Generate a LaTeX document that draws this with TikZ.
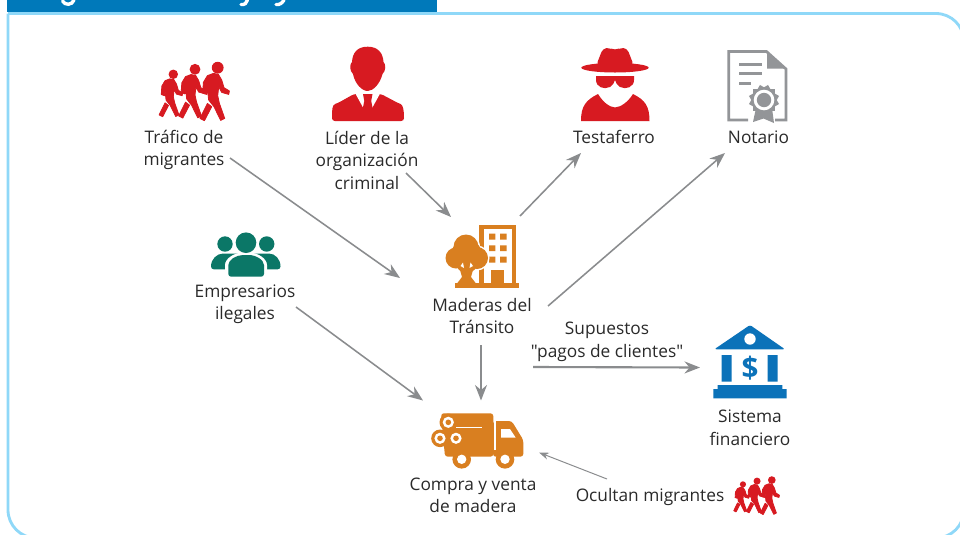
\documentclass[tikz,border=0pt]{standalone}
\usepackage{fontspec}
\newfontfamily\opensans{Open Sans}
\usetikzlibrary{arrows.meta,calc}

\definecolor{bandblue}{HTML}{0079BA}
\definecolor{framesky}{HTML}{8FD8F8}
\definecolor{arrowgray}{HTML}{8A8C8E}
\definecolor{docgray}{HTML}{939598}
\definecolor{inkgray}{HTML}{2A2A2A}
\definecolor{iconred}{HTML}{D71A21}
\definecolor{woodorange}{HTML}{D97F20}
\definecolor{bankblue}{HTML}{0B72B9}
\definecolor{groupgreen}{HTML}{0B7767}

\newcommand{\runner}[3]{
  \begin{scope}[shift={(#1,#2)},scale=#3]
    \fill[iconred] (0,0) circle (5.9);
    \filldraw[iconred,line width=.6pt,line join=round] (-4.3,5.7) -- (.7,6.7) -- (4,12.3) -- (6.3,20) -- (11.7,23.3) -- (11,26.7) -- (4,24.7) -- (1,19) -- (0,28) -- (1.7,35.7) -- (7,50.7) -- (3,52.7) -- (-3.7,39) -- (-9,32.3) -- (-10.3,20.7) -- (-11,26.7) -- (-15,25.3) -- (-14.3,14.7) -- (-10.3,8) -- cycle;
    \filldraw[iconred,line width=.6pt,line join=round] (-10.3,35.7) -- (-6,39) -- (-13.3,53) -- (-17.7,50.7) -- cycle;
  \end{scope}
}
\newcommand{\runnergroup}[3]{
  \begin{scope}[shift={(#1,#2)},scale=#3]
    \runner{15.3}{11.3}{.8}
    \runner{37}{6.3}{.92}
    \runner{59.7}{4.7}{1}
  \end{scope}
}

\begin{document}
\begin{tikzpicture}[x=0.025cm,y=-0.025cm,
  label node/.style={align=center,text=inkgray,inner sep=2pt,font=\opensans\fontsize{12.3}{16}\selectfont},
  flow/.style={draw=arrowgray,line width=1.1pt,-{Stealth[length=11pt,width=8.5pt]}},
  thin flow/.style={draw=arrowgray,line width=.7pt,-{Stealth[length=7pt,width=5pt]}}]

  \clip (0,0) rectangle (960,534);
  \fill[white] (0,0) rectangle (960,534);

  \draw[framesky,line width=2pt,rounded corners=20pt] (8,13.5) -- (964,13.5) -- (964,538) -- (8,538) -- (8,13.5);
  \fill[bandblue] (7,-1) rectangle (437,12);
  \draw[white,line width=2.4pt,line cap=round] (62.5,1) .. controls (65,5.5) and (72,5.5) .. (74,0);
  \draw[white,line width=2.4pt,line cap=round] (241,4.5) .. controls (245,5) and (246.5,3) .. (247.5,0);
  \draw[white,line width=2.4pt,line cap=round] (276,4.5) .. controls (280,5) and (282,3) .. (284,0);

  \node[label node] (trafico) at (184,150) {Tráfico de\\migrantes};
  \node[label node] (lider) at (367,160) {Líder de la\\organización\\criminal};
  \node[label node] (testaferro) at (614,137) {Testaferro};
  \node[label node] (notario) at (758.5,137) {Notario};
  \node[label node] (empresarios) at (245,304) {Empresarios\\ilegales};
  \node[label node] (maderas) at (482,316) {Maderas del\\Tránsito};
  \node[label node] (pagos) at (607,342) {Supuestos\\"pagos de clientes"};
  \node[label node] (sistema) at (750,427.5) {Sistema\\financiero};
  \node[label node] (compra) at (473,495.5) {Compra y venta\\de madera};
  \node[label node] (ocultan) at (650,497) {Ocultan migrantes};

  \runnergroup{158}{63}{1}
  \runnergroup{733}{477}{.65}

  % leader
  \fill[iconred] (367.7,46.7) .. controls (378,46.7) and (383,53) .. (383.5,62) .. controls (386,64) and (386,71) .. (382.5,74) .. controls (380,84) and (373,91) .. (367.7,91) .. controls (362,91) and (355,84) .. (353,74) .. controls (349.5,71) and (349.5,64) .. (352,62) .. controls (352.5,53) and (357,46.7) .. (367.7,46.7) -- cycle;
  \fill[iconred,rounded corners=2pt] (332,121) .. controls (332,110) and (332,105) .. (338,103) -- (354,94) -- (381,94) -- (398,103) .. controls (403,105) and (404,110) .. (404,121) -- cycle;
  \fill[white] (354,91) -- (381.5,91) -- (367.7,116) -- cycle;
  \fill[iconred] (363,94) -- (372.5,94) -- (371.2,101) -- (373.5,112) -- (367.7,118) -- (362,112) -- (364.3,101) -- cycle;

  % hat
  \fill[iconred] (615,67.7) ellipse (33.7 and 4.8);
  \fill[iconred,rounded corners=3pt] (596,66) -- (603,48) -- (610,48) -- (615,50.5) -- (620,48) -- (627,48) -- (634,66) -- cycle;
  \fill[iconred] (596,76) -- (634,76) -- (634,80) .. controls (634,87) and (626,90) .. (620,87) .. controls (617,85) and (616,83) .. (615,80) .. controls (614,83) and (613,85) .. (610,87) .. controls (604,90) and (596,87) .. (596,80) -- cycle;
  \fill[iconred] (581,121) .. controls (581,106) and (586,100) .. (598,94) .. controls (603,102) and (609,107) .. (615,107.5) .. controls (621,107) and (628,102) .. (633,94) .. controls (645,100) and (649.5,106) .. (649.5,121) -- cycle;

  % certificate
  \draw[docgray,line width=1.9pt] (748,120) -- (728.8,120) -- (728.8,51.5) -- (766.5,51.5) -- (786,69) -- (786,120) -- (775,120);
  \fill[docgray] (767,52) -- (767,68.5) -- (786,68.5) -- cycle;
  \draw[docgray,line width=1.9pt] (739.3,64.3) -- (761.7,64.3) (739.3,73.7) -- (761.7,73.7) (739.3,83.3) -- (750.7,83.3);
  \fill[docgray] (756,108) -- (772,108) -- (774,123) -- (763.5,118.5) -- (753,122) -- cycle;
  \foreach \a in {0,30,60}
    \fill[docgray,rotate around={\a:(764,100)}] (753,89) rectangle (775,111);
  \fill[white] (764,100) circle (10.3);
  \fill[docgray] (764,100) circle (7.2);

  % company with tree
  \fill[woodorange] (479.3,224.5) rectangle (516,284);
  \fill[white] (483.7,229) rectangle (512.3,284);
  \fill[woodorange] (455,283.3) rectangle (519.3,288);
  \foreach \wy in {233.7,245.3,256.7}
    \fill[woodorange] (489,\wy) rectangle (495.3,\wy+5.8) (500,\wy) rectangle (506.7,\wy+5.8);
  \fill[woodorange] (491,270) rectangle (504,284);
  \fill[white] (466,247) circle (14) (456,258) circle (12) (477,258) circle (12.5) (466.7,262) circle (12.5);
  \fill[woodorange] (466,247) circle (12.5) (456,258) circle (10.5) (477,258) circle (11) (466.7,262) circle (11) (466.5,254) circle (15);
  \fill[woodorange] (460,270) -- (473,270) -- (471,277) -- (476,283.5) -- (457,283.5) -- (462,277) -- cycle;
  \fill[white] (463,262.5) -- (464,268) -- (460.5,266) -- cycle (470.5,262.5) -- (469.5,268) -- (473,266) -- cycle;

  % truck
  \fill[woodorange,rounded corners=2pt] (441,413.3) -- (493.3,413.3) -- (493.3,456.7) -- (445,456.7) -- cycle;
  \fill[woodorange,rounded corners=2pt] (493,421) -- (511.7,421) -- (523.3,440) -- (523.3,456.7) -- (493,456.7) -- cycle;
  \draw[white,line width=2pt] (495,412) -- (495,450);
  \fill[white] (501,429) -- (510,429) -- (515.7,437.7) -- (501,437.7) -- cycle;
  \draw[white,line width=.9pt] (456,427.7) -- (481.7,427.7);
  \foreach \lx/\ly in {448.3/422.3,440/438.3,456/438.3} {
    \fill[woodorange] (\lx,\ly) circle (8.8);
    \fill[white] (\lx,\ly) circle (5.6);
    \fill[woodorange] (\lx,\ly) circle (2.8);
  }
  \foreach \wx in {461.7,505} {
    \fill[woodorange] (\wx,459.3) circle (9.3);
    \fill[white] (\wx,459.3) circle (4.7);
  }

  % bank
  \fill[bankblue,rounded corners=1.5pt] (750,325) -- (785,349.3) -- (714.3,349.3) -- cycle;
  \fill[white] (750,339) circle (5.7);
  \fill[bankblue] (721.7,355) rectangle (731.7,381.7) (767.7,355) rectangle (777.7,381.7);
  \fill[bankblue] (717.7,385) rectangle (782.3,389.5) (713.3,389) rectangle (786.7,398.3);
  \node[text=bankblue,inner sep=0pt,font=\opensans\fontsize{21}{21}\selectfont\bfseries] (dollar) at (750,368) {\$};

  % people
  \fill[groupgreen] (225,244) circle (7.7) (266.7,244) circle (7.7);
  \fill[groupgreen,rounded corners=2pt] (211,269.3) .. controls (211,259) and (217,253.5) .. (226,253.5) .. controls (235,253.5) and (257,253.5) .. (266,253.5) .. controls (275,253.5) and (280.5,259) .. (280.5,269.3) -- cycle;
  \fill[white,rounded corners=2pt] (225,279) -- (225,268) .. controls (225,258) and (235,252.5) .. (246,252.5) .. controls (257,252.5) and (267,258) .. (267,268) -- (267,279) -- cycle;
  \fill[groupgreen] (246,242.7) circle (10.3);
  \fill[groupgreen,rounded corners=2pt] (228.3,276.7) -- (228.3,268) .. controls (228.3,260) and (236,255) .. (246,255) .. controls (256,255) and (264,260) .. (264,268) -- (264,276.7) -- cycle;

  \draw[flow] ($(trafico)+(46,8)$) -- ($(maderas)+(-82,-38)$);
  \draw[flow] ($(lider)+(39,13)$) -- ($(maderas)+(-31,-99)$);
  \draw[flow] ($(maderas)+(38,-100)$) -- ($(testaferro)+(-33,16)$);
  \draw[flow] ($(maderas)+(66,-10)$) -- ($(notario)+(-33.5,16)$);
  \draw[flow,line width=1.5pt] ($(maderas)+(-1,29)$) -- ($(compra)+(8,-95)$);
  \draw[flow] ($(empresarios)+(51,3)$) -- ($(compra)+(-50,-95)$);
  \draw[flow,line width=1.5pt] ($(maderas)+(51,51)$) -- ($(sistema)+(-50,-60)$);
  \draw[thin flow] ($(ocultan)+(-43,-18)$) -- ($(compra)+(66,-43)$);
\end{tikzpicture}
\end{document}
